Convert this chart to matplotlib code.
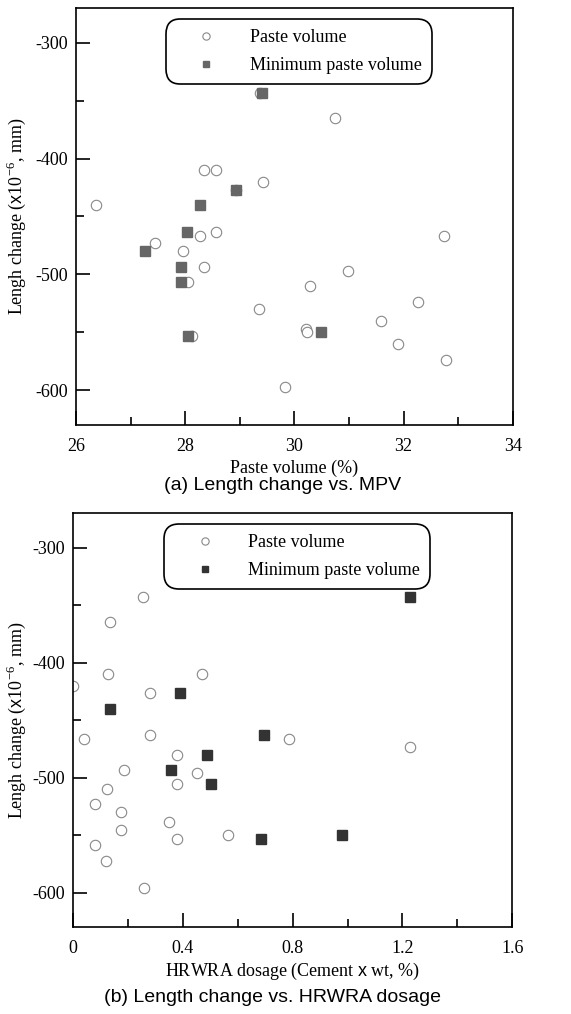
import matplotlib

matplotlib.use("Agg")

import matplotlib.pyplot as plt
from matplotlib.ticker import FuncFormatter, MultipleLocator

plt.rcParams["font.family"] = "Liberation Serif"
plt.rcParams["mathtext.fontset"] = "custom"
plt.rcParams["mathtext.rm"] = "Liberation Serif"
plt.rcParams["mathtext.sf"] = "Liberation Sans"
plt.rcParams["axes.unicode_minus"] = False

# (a) length change vs. paste volume
pv_x = [29.38, 30.74, 28.35, 28.57, 29.43, 28.93, 26.36, 28.56, 28.28, 32.74,
        27.44, 27.96, 28.35, 30.98, 28.05, 30.28, 32.26, 29.35, 31.59, 30.22,
        30.24, 28.13, 31.89, 32.78, 29.83]
pv_y = [-343, -365, -410, -410, -420, -427, -440, -463, -467, -467,
        -473, -480, -494, -497, -507, -510, -524, -530, -540, -547,
        -550, -553, -560, -574, -597]
mpv_x = [29.40, 28.94, 28.28, 28.03, 27.27, 27.93, 27.93, 28.06, 30.48]
mpv_y = [-343, -427, -440, -463, -480, -494, -507, -553, -550]

# (b) length change vs. HRWRA dosage
hr_x = [0.254, 0.135, 0.129, 0.469, 0.0, 0.282, 0.282, 0.040, 0.785, 1.228,
        0.379, 0.187, 0.452, 0.377, 0.125, 0.080, 0.174, 0.349, 0.174, 0.564,
        0.377, 0.080, 0.120, 0.260]
hr_y = [-343, -365, -410, -410, -420, -426, -463, -466, -466, -473,
        -480, -493, -496, -506, -510, -523, -530, -539, -546, -550,
        -553, -559, -573, -596]
hr_min_x = [1.228, 0.390, 0.135, 0.695, 0.489, 0.357, 0.503, 0.685, 0.979]
hr_min_y = [-343, -426, -440, -463, -480, -493, -506, -553, -550]

YLABEL = r"Lengh change ($\mathsf{x}$10$^{\mathregular{-6}}$, mm)"


def style_axes(ax, xlim, xmajor, xminor, label_x):
    ax.set_xlim(*xlim)
    ax.set_ylim(-630, -270)
    ax.xaxis.set_major_locator(MultipleLocator(xmajor))
    ax.xaxis.set_minor_locator(MultipleLocator(xminor))
    ax.xaxis.set_major_formatter(FuncFormatter(lambda v, p: f"{v:g}"))
    ax.yaxis.set_major_locator(MultipleLocator(100))
    ax.yaxis.set_minor_locator(MultipleLocator(50))
    ax.tick_params(which="both", direction="in", width=1.2,
                   labelsize=13, top=False, right=False)
    ax.tick_params(which="major", length=10)
    ax.tick_params(axis="x", which="major", pad=9.5)
    ax.tick_params(axis="y", which="major", pad=6)
    ax.tick_params(which="minor", length=6)
    for spine in ax.spines.values():
        spine.set_linewidth(1.2)
    ax.set_ylabel(YLABEL, fontsize=13)
    ax.yaxis.set_label_coords(label_x, 0.5)


def add_legend(ax):
    leg = ax.legend(
        loc="upper center",
        bbox_to_anchor=(0.51, 0.965),
        fontsize=13,
        markerscale=0.7,
        handlelength=3.4,
        handletextpad=0.7,
        borderpad=0.35,
        labelspacing=0.6,
        fancybox=True,
        framealpha=1,
        edgecolor="black",
        borderaxespad=0,
    )
    leg.get_frame().set_linewidth(1.2)
    leg.get_frame().set_boxstyle("round", pad=0.2, rounding_size=0.8)


fig = plt.figure(figsize=(5.71, 10.14), dpi=100)

ax1 = fig.add_axes([0.133, 0.581, 0.765, 0.411])
ax1.plot(pv_x, pv_y, "o", ms=7.5, mfc="white", mec="#888888", mew=0.8,
         label="Paste volume")
ax1.plot(mpv_x, mpv_y, "s", ms=7, mfc="#666666", mec="#666666",
         label="Minimum paste volume")
style_axes(ax1, (26, 34), 2, 1, -0.110)
ax1.set_xlabel("Paste volume (%)", fontsize=13, labelpad=3)
add_legend(ax1)

ax2 = fig.add_axes([0.128, 0.0858, 0.769, 0.408])
ax2.plot(hr_x, hr_y, "o", ms=7.5, mfc="white", mec="#888888", mew=0.8,
         label="Paste volume")
ax2.plot(hr_min_x, hr_min_y, "s", ms=7, mfc="#333333", mec="#333333",
         label="Minimum paste volume")
style_axes(ax2, (0, 1.6), 0.4, 0.2, -0.103)
ax2.set_xlabel(r"HRWRA dosage (Cement $\mathsf{x}$ wt, %)", fontsize=13,
               labelpad=3)
add_legend(ax2)

fig.text(0.494, 0.521, "(a) Length change vs. MPV", fontsize=14,
         family="Liberation Sans", ha="center", va="center")
fig.text(0.478, 0.016, "(b) Length change vs. HRWRA dosage", fontsize=14,
         family="Liberation Sans", ha="center", va="center")

fig.savefig("out.png", dpi=100)
